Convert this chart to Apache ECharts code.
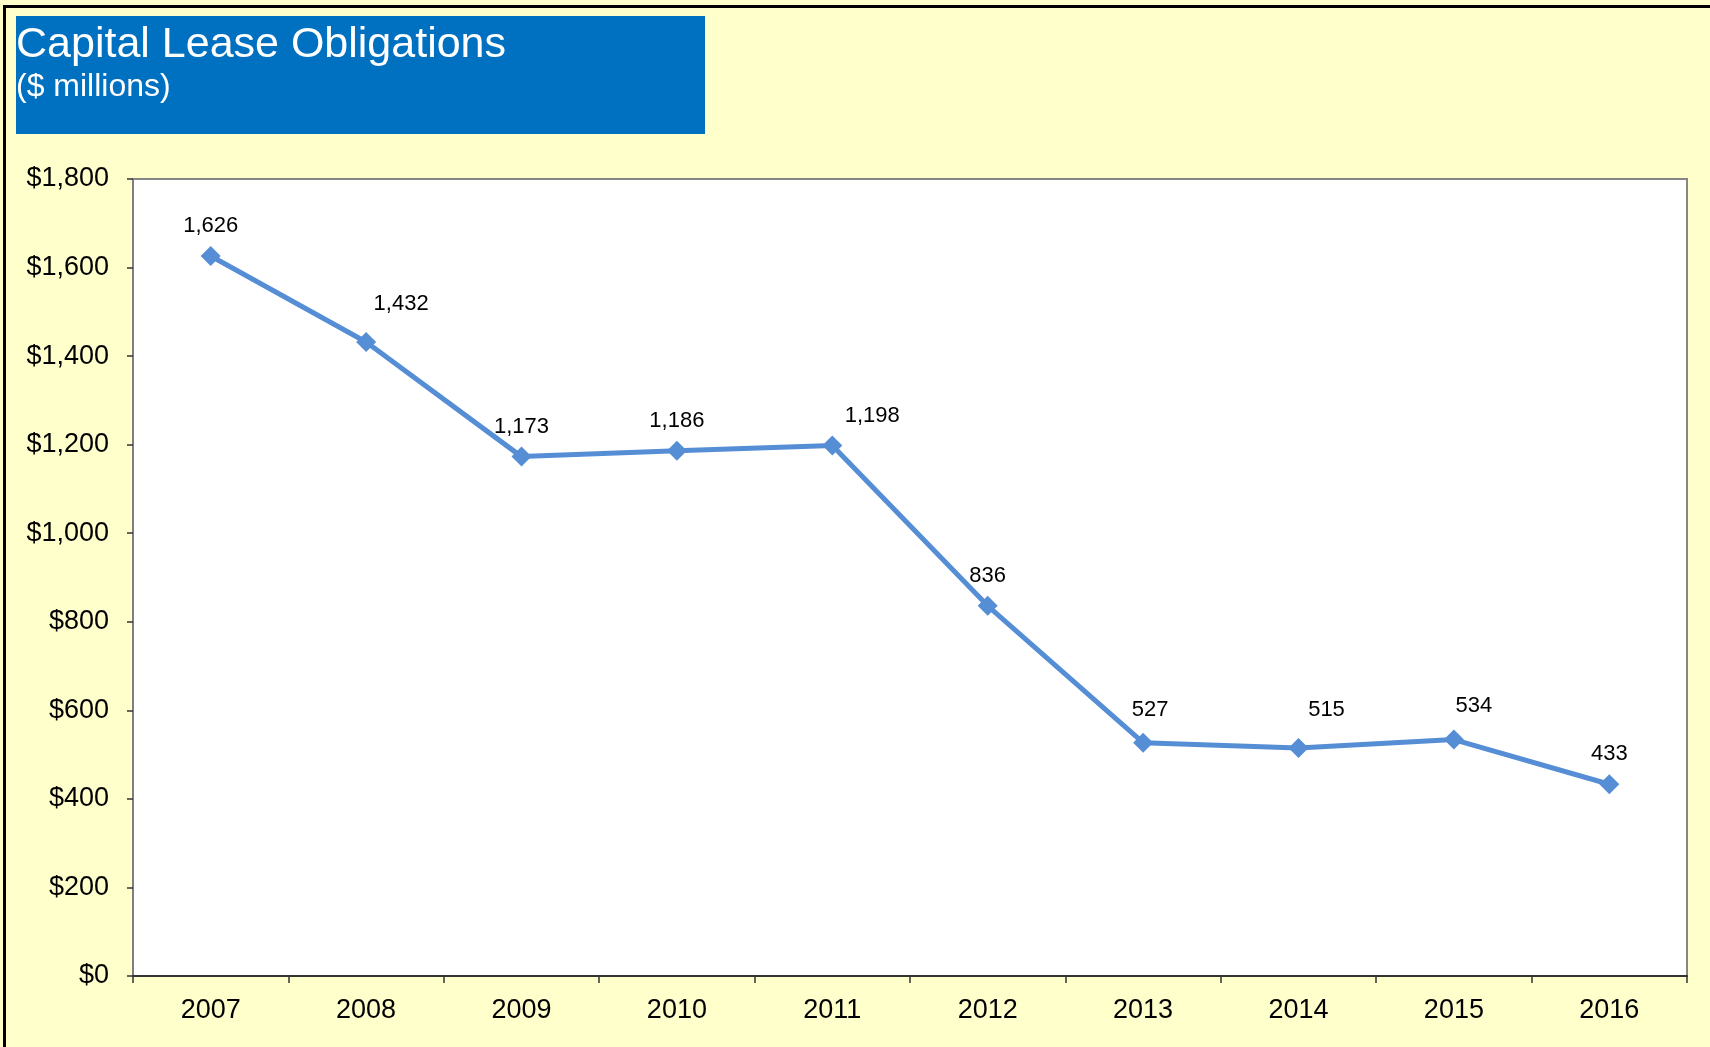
<!DOCTYPE html>
<html>
<head>
<meta charset="utf-8">
<script src="https://cdn.jsdelivr.net/npm/echarts@6/dist/echarts.min.js"></script>
<style>
  html, body { margin: 0; padding: 0; }
  #chart { width: 1710px; height: 1047px; }
</style>
</head>
<body>
<div id="chart"></div>
<script>
// values in $ millions
let years = ['2007', '2008', '2009', '2010', '2011', '2012', '2013', '2014', '2015', '2016'];
let obligations = [1626, 1432, 1173, 1186, 1198, 836, 527, 515, 534, 433];

// label nudges, as the original chart places some labels off to the right
let labelShift = [[0, 0], [35, -8], [0, 0], [0, 0], [40, 0], [0, 0], [7, -3], [28, -8], [20, -4], [0, 0]];

let font = 'Liberation Sans, Arial, sans-serif';
let fmt = v => Number(v).toLocaleString('en-US');

let option = {
    backgroundColor: '#FFFFCC',
    animation: false,
    title: [
        {
            text: 'Capital Lease Obligations',
            left: 16,
            top: 24,
            padding: 0,
            textStyle: { color: '#fff', fontSize: 43, fontWeight: 'normal', fontFamily: font }
        },
        {
            text: '($ millions)',
            left: 16,
            top: 71,
            padding: 0,
            textStyle: { color: '#fff', fontSize: 32, fontWeight: 'normal', fontFamily: font }
        }
    ],
    graphic: [
        {
            type: 'rect',
            z: -1,
            shape: { x: 4.5, y: 6.5, width: 2000, height: 2000 },
            style: { fill: null, stroke: '#000', lineWidth: 3 }
        },
        {
            type: 'rect',
            z: -1,
            shape: { x: 16, y: 16, width: 689, height: 118 },
            style: { fill: '#0070C0' }
        }
    ],
    grid: {
        left: 133,
        top: 179,
        right: 23,
        bottom: 71,
        show: true,
        backgroundColor: '#fff',
        borderColor: '#868686',
        borderWidth: 2
    },
    xAxis: {
        type: 'category',
        data: years,
        axisLine: { lineStyle: { color: '#333', width: 2 } },
        axisTick: { show: true, length: 7, lineStyle: { color: '#333', width: 1.5 } },
        axisLabel: { color: '#000', fontSize: 27, fontFamily: font, margin: 21 },
        splitLine: { show: false }
    },
    yAxis: {
        type: 'value',
        min: 0,
        max: 1800,
        interval: 200,
        axisLine: { show: true, lineStyle: { color: '#7f7f7f', width: 2 } },
        axisTick: { show: true, length: 6, lineStyle: { color: '#333', width: 1.5 } },
        axisLabel: { color: '#000', fontSize: 27, fontFamily: font, margin: 24, formatter: v => '$' + fmt(v) },
        splitLine: { show: false }
    },
    series: [
        {
            name: 'Capital Lease Obligations',
            type: 'line',
            data: obligations.map((v, i) => ({
                value: v,
                label: { offset: labelShift[i] }
            })),
            symbol: 'diamond',
            symbolSize: 20,
            itemStyle: { color: '#558ED5' },
            lineStyle: { color: '#558ED5', width: 5 },
            label: {
                show: true,
                position: 'top',
                distance: 9,
                color: '#000',
                fontSize: 22,
                fontFamily: font,
                formatter: p => fmt(p.value)
            }
        }
    ]
};

let myChart = echarts.init(document.getElementById('chart'));
myChart.setOption(option);
</script>
</body>
</html>
